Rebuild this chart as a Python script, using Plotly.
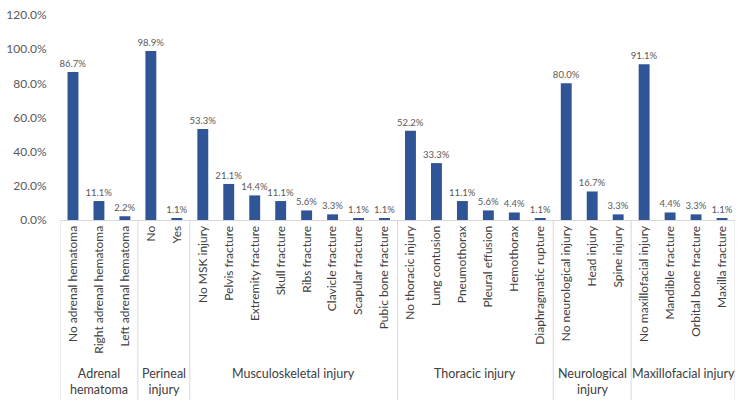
import plotly.graph_objects as go

groups = ["Adrenal<br>hematoma", "Perineal<br>injury", "Musculoskeletal injury",
          "Thoracic injury", "Neurological<br>injury", "Maxillofacial injury"]
group_items = [
    ["No adrenal hematoma", "Right adrenal hematoma", "Left adrenal hematoma"],
    ["No", "Yes"],
    ["No MSK injury", "Pelvis fracture", "Extremity fracture", "Skull fracture",
     "Ribs fracture", "Clavicle fracture", "Scapular fracture", "Pubic bone fracture"],
    ["No thoracic injury", "Lung contusion", "Pneumothorax", "Pleural effusion",
     "Hemothorax", "Diaphragmatic rupture"],
    ["No neurological injury", "Head injury", "Spine injury"],
    ["No maxillofacial injury", "Mandible fracture", "Orbital bone fracture", "Maxilla fracture"],
]
group_values = [
    [86.7, 11.1, 2.2],
    [98.9, 1.1],
    [53.3, 21.1, 14.4, 11.1, 5.6, 3.3, 1.1, 1.1],
    [52.2, 33.3, 11.1, 5.6, 4.4, 1.1],
    [80.0, 16.7, 3.3],
    [91.1, 4.4, 3.3, 1.1],
]
y_ticks = [0, 0.2, 0.4, 0.6, 0.8, 1.0, 1.2]

labels = [c for g in group_items for c in g]
values = [v / 100 for g in group_values for v in g]
xs = list(range(len(labels)))

FONT = "Lato"
GRAY = "#595959"
LINE = "#D9D9D9"

fig = go.Figure()
fig.add_trace(go.Bar(
    x=xs, y=values, width=0.42,
    marker=dict(color="#2F5597", line=dict(width=0)),
    text=[f"{v*100:.1f}%" for v in values],
    textposition="outside",
    constraintext="none",
    outsidetextfont=dict(family=FONT, size=9.5, color=GRAY),
    cliponaxis=False,
    hoverinfo="skip",
))

shapes = []
annotations = []
bottom = -0.878
start = 0
bounds = [-0.5]
for name, items in zip(groups, group_items):
    n = len(items)
    end = start + n
    bounds.append(end - 0.5)
    annotations.append(dict(
        x=(start + end - 1) / 2, xref="x", y=-0.70, yref="paper",
        text=name, showarrow=False, yanchor="top", xanchor="center",
        font=dict(family=FONT, size=12.5, color="#404040"), align="center",
    ))
    start = end
for b in bounds:
    shapes.append(dict(type="line", xref="x", yref="paper", x0=b, x1=b,
                       y0=0, y1=bottom, line=dict(color=LINE, width=1)))

fig.update_layout(
    width=750, height=406,
    margin=dict(l=60, r=15, t=15, b=186, autoexpand=False),
    paper_bgcolor="white", plot_bgcolor="white",
    showlegend=False,
    shapes=shapes, annotations=annotations,
    font=dict(family=FONT, color=GRAY),
    xaxis=dict(
        range=[-0.5, len(labels) - 0.5],
        tickmode="array", tickvals=xs, ticktext=labels,
        tickangle=-90, tickfont=dict(family=FONT, size=12, color="#404040"),
        showline=True, linecolor=LINE, linewidth=1,
        showgrid=False, zeroline=False, ticks="", automargin=False,
    ),
    yaxis=dict(
        range=[0, 1.2], tickmode="array", tickvals=y_ticks,
        tickformat=".1%", tickfont=dict(family=FONT, size=12, color=GRAY),
        showgrid=False, zeroline=False, showline=False,
        ticks="outside", ticklen=10, tickcolor="rgba(0,0,0,0)",
        automargin=False,
    ),
)

fig.write_html("out.html")
